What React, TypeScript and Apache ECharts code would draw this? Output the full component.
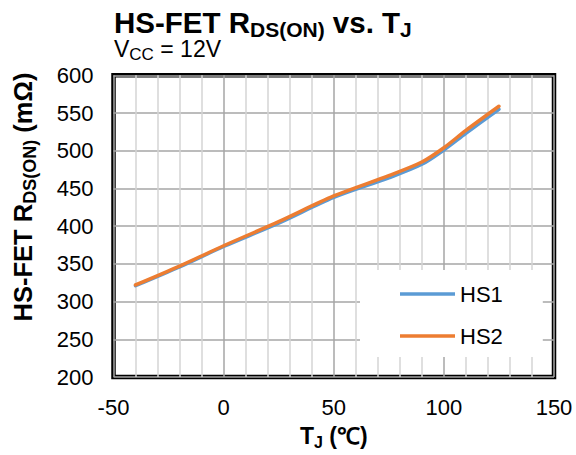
import React, { useEffect, useRef } from "react";
import * as echarts from "echarts";

const temps = [-40, -20, 0, 25, 50, 75, 90, 100, 110, 125];
const hs1 = [321, 346, 373, 404, 438, 464, 482, 501, 523, 555];
const hs2 = [322, 347, 374, 406, 440, 467, 485, 504, 527, 559];
const seriesNames = ["HS1", "HS2"];
const seriesColors = ["#5B9BD5", "#ED7D31"];

const FONT = "'Liberation Sans', Arial, sans-serif";

export default function App() {
  const ref = useRef<HTMLDivElement>(null);
  useEffect(() => {
    if (!ref.current) return;
    const chart = echarts.init(ref.current, null, { renderer: "svg" });
    const toPairs = (vals: number[]) => temps.map((t, i) => [t, vals[i]]);
    chart.setOption({
      animation: false,
      backgroundColor: "#fff",
      textStyle: { fontFamily: FONT, color: "#000" },
      title: [
        {
          left: 114,
          top: 4,
          padding: 0,
          text: "{a|HS-FET R}{b|DS(ON)}{a| vs. T}{b|J}",
          textStyle: {
            rich: {
              a: { fontFamily: FONT, fontSize: 29.5, fontWeight: "bold", color: "#000", lineHeight: 36 },
              b: { fontFamily: FONT, fontSize: 21, fontWeight: "bold", color: "#000", verticalAlign: "bottom" },
            },
          },
        },
        {
          left: 114,
          top: 35,
          padding: 0,
          text: "{a|V}{b|CC}{a| = 12V}",
          textStyle: {
            rich: {
              a: { fontFamily: FONT, fontSize: 23, fontWeight: "normal", color: "#000", lineHeight: 28 },
              b: { fontFamily: FONT, fontSize: 17, fontWeight: "normal", color: "#000", verticalAlign: "bottom" },
            },
          },
        },
      ],
      grid: {
        left: 113.5,
        right: 22,
        top: 75.3,
        bottom: 76.3,
        show: true,
        backgroundColor: "#fff",
        borderColor: "#000",
        borderWidth: 4.5,
      },
      legend: {
        orient: "vertical",
        left: 360,
        top: 270,
        padding: [13, 40, 10, 40],
        backgroundColor: "#fff",
        icon: "rect",
        itemWidth: 55,
        itemHeight: 3.5,
        itemGap: 20,
        itemTextGap: 4,
        textStyle: { fontFamily: FONT, fontSize: 22, color: "#000" },
        data: seriesNames,
      },
      graphic: [
        {
          type: "text",
          x: 23,
          y: 197,
          rotation: Math.PI / 2,
          style: {
            text: "{a|HS-FET R}{b|DS(ON)}{a| (mΩ)}",
            align: "center",
            verticalAlign: "middle",
            rich: {
              a: { fontFamily: FONT, fontSize: 25.5, fontWeight: "bold", fill: "#000", lineHeight: 32 },
              b: { fontFamily: FONT, fontSize: 18, fontWeight: "bold", fill: "#000", verticalAlign: "bottom" },
            },
          },
        },
      ],
      xAxis: {
        type: "value",
        min: -50,
        max: 150,
        interval: 50,
        axisLine: { show: false },
        axisTick: { show: false },
        axisLabel: { fontFamily: FONT, fontSize: 22, color: "#000", margin: 19 },
        splitLine: { show: true, lineStyle: { color: "#a6a6a6", width: 1.5 } },
        minorTick: { show: false, splitNumber: 5 },
        minorSplitLine: { show: true, lineStyle: { color: "#d4d4d4", width: 1.5 } },
        name: "{a|T}{b|J}{a| (℃)}",
        nameLocation: "middle",
        nameGap: 45,
        nameTextStyle: {
          rich: {
            a: { fontFamily: FONT, fontSize: 23, fontWeight: "bold", color: "#000", lineHeight: 28 },
            b: { fontFamily: FONT, fontSize: 16, fontWeight: "bold", color: "#000", verticalAlign: "bottom" },
          },
        },
      },
      yAxis: {
        type: "value",
        min: 200,
        max: 600,
        interval: 50,
        axisLine: { show: false },
        axisTick: { show: false },
        axisLabel: { fontFamily: FONT, fontSize: 22, color: "#000", margin: 20 },
        splitLine: { show: true, lineStyle: { color: "#a6a6a6", width: 1.5 } },
      },
      series: [
        {
          name: seriesNames[0],
          type: "line",
          data: toPairs(hs1),
          smooth: 0.3,
          symbol: "none",
          color: seriesColors[0],
          lineStyle: { width: 3.5, color: seriesColors[0], cap: "round" },
        },
        {
          name: seriesNames[1],
          type: "line",
          data: toPairs(hs2),
          smooth: 0.3,
          symbol: "none",
          color: seriesColors[1],
          lineStyle: { width: 3.5, color: seriesColors[1], cap: "round" },
        },
      ],
    });
    return () => chart.dispose();
  }, []);
  return <div ref={ref} style={{ width: 576, height: 455, position: "absolute", left: 0, top: 0 }} />;
}
